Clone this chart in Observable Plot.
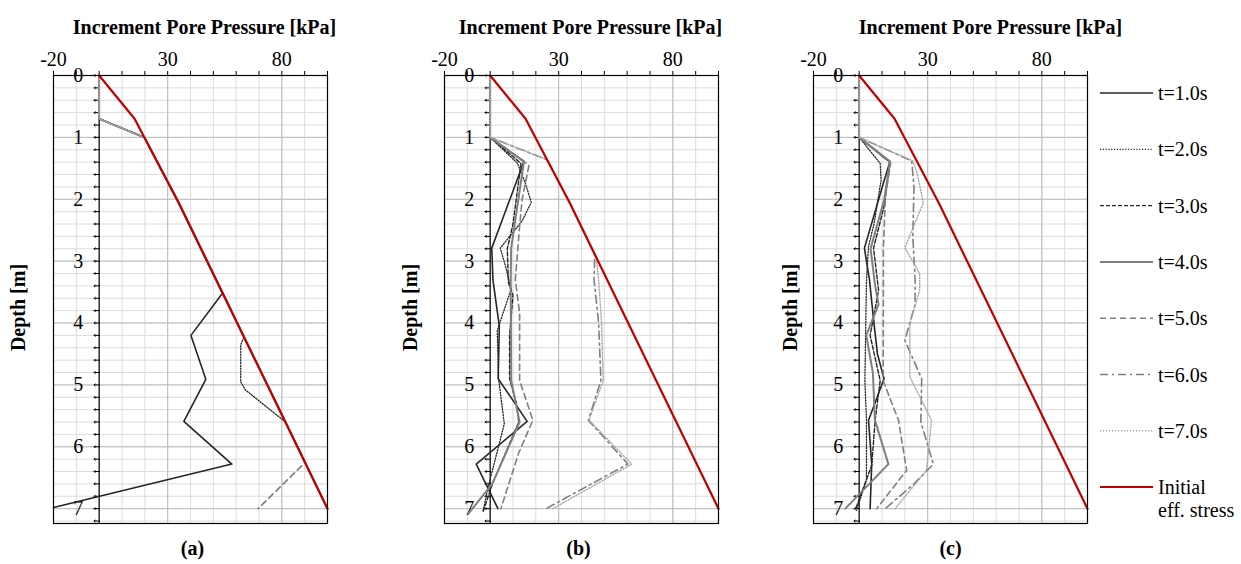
<!DOCTYPE html>
<html><head><meta charset="utf-8">
<script src="https://cdn.jsdelivr.net/npm/d3@7"></script>
<script src="https://cdn.jsdelivr.net/npm/@observablehq/plot@0.6"></script>
<style>
body{margin:0;background:#fff;}
#wrap{position:relative;width:1241px;height:564px;overflow:hidden;font-family:"Liberation Serif","DejaVu Serif",serif;}
#wrap svg, #wrap svg text{font-family:"Liberation Serif","DejaVu Serif",serif !important;}
</style></head><body><div id="wrap"></div>
<script>
// ---- tick labels / categories ----
const xTickLabels = [-20, 30, 80];
const yTickLabels = [0, 1, 2, 3, 4, 5, 6, 7];
const seriesNames = ["t=1.0s", "t=2.0s", "t=3.0s", "t=4.0s", "t=5.0s", "t=6.0s", "t=7.0s"];
const initialName = ["Initial", "eff. stress"];
const panelLabels = ["(a)", "(b)", "(c)"];
const xTitle = "Increment Pore Pressure [kPa]";
const yTitle = "Depth [m]";

// ---- data: [increment pore pressure kPa, depth m] ----
const initialStress = [[0,0],[15.5,0.7],[35,2.07],[100,7.0]];

const a_t1 = [[0,0],[0,0.7],[19.8,1.0],[35,2.07],[54,3.52],[40.2,4.2],[46.7,4.91],[37.1,5.59],[58.1,6.28],[-20,6.98]];
const a_t2 = [[0,0],[0,0.7],[19.8,1.0],[35,2.07],[63.5,4.22],[62,4.35],[62,4.95],[64,5.08],[81.6,5.6],[100,7.0]];
const a_t3 = [[0,0],[0,0.7],[19.8,1.0],[35,2.07],[100,7.0]];
const a_t4 = [[0,0],[0,0.7],[19.8,1.0],[35,2.07],[100,7.0]];
const a_t5 = [[0,0],[0,0.7],[19.8,1.0],[35,2.07],[90.3,6.25],[69.6,7.0]];
const a_t6 = [[0,0],[0,0.7],[19.8,1.0],[35,2.07],[100,7.0]];
const a_t7 = [[0,0],[0,0.7],[19.8,1.0],[35,2.07],[100,7.0]];

const b_t1 = [[0,0],[0,1.0],[14.8,1.39],[0.7,2.79],[1.2,3.3],[4.0,4.05],[3.5,4.9],[16.2,5.59],[-6.1,6.28],[3.4,7.0]];
const b_t2 = [[0,0],[0,1.0],[12,1.42],[15.5,1.75],[18,2.05],[14,2.35],[4.4,2.79],[6.5,3.05],[9.2,3.45],[3.1,4.12],[3.7,4.9],[6.2,5.63],[-0.9,6.65],[-3.1,7.04]];
const b_t3 = [[0,0],[0,1.0],[13.5,1.42],[10,2.4],[7.5,2.8],[8,3.35],[10,3.55],[8.5,4.2],[8.5,4.9],[11.5,5.3],[12.5,5.6],[1,6.6],[-3,7.04]];
const b_t4 = [[0,0],[0,1.0],[14.8,1.39],[9.2,2.79],[9,3.3],[9.2,4.93],[12.9,5.6],[0.9,6.6],[-9.5,7.08]];
const b_t5 = [[0,0],[0,1.0],[17,1.45],[14,2.0],[12.9,2.44],[11,3.3],[12.9,3.84],[12.9,4.93],[18.7,5.57],[12.5,6.1],[4.7,7.0]];
const b_t6 = [[0,0],[0,1.0],[24.9,1.36],[35,2.07],[45.8,2.9],[45.5,3.3],[47.5,4.0],[48.5,4.93],[43,5.57],[60.3,6.28],[24.5,7.0]];
const b_t7 = [[0,0],[0,1.0],[24.9,1.36],[35,2.07],[46.5,2.95],[47.5,3.3],[48.8,4.0],[49.5,4.93],[43.3,5.57],[62,6.28],[27.5,7.0]];

const c_t1 = [[0,0],[0,1.0],[13.5,1.39],[10.6,1.74],[2.3,2.79],[4.5,3.3],[6.5,4.01],[8,4.5],[10.9,4.9],[4.1,5.57],[5.5,6.28],[4.8,7.0]];
const c_t2 = [[0,0],[0,1.0],[9.2,1.42],[9.6,1.69],[6.5,2.4],[4.1,2.76],[3.2,3.31],[2.5,4.93],[3.2,5.57],[3.2,6.54],[-1.2,7.03]];
const c_t3 = [[0,0],[0,1.0],[13.5,1.4],[11,2.1],[6.3,2.79],[8.5,3.47],[4.8,4.2],[9.2,4.93],[7,5.57],[5.5,6.3],[-1.5,7.0]];
const c_t4 = [[0,0],[0,1.0],[13.5,1.39],[11,2.0],[5,2.8],[7,3.4],[8.5,3.7],[3.1,4.2],[6,4.8],[6.9,5.57],[12.8,6.28],[-6.1,7.0]];
const c_t5 = [[0,0],[0,1.0],[13.8,1.42],[11.5,1.95],[10.6,2.8],[10.6,3.5],[10.5,4.93],[17.2,5.57],[20.8,6.38],[7.7,7.0]];
const c_t6 = [[0,0],[0,1.0],[23,1.38],[24,1.8],[23.5,2.6],[24.5,3.3],[24.5,3.7],[20,4.28],[27.4,4.9],[27,5.6],[32.5,6.28],[24,6.6],[11.4,7.0]];
const c_t7 = [[0,0],[0,1.0],[23.5,1.38],[25.4,1.58],[28.1,2.06],[20,2.78],[26.5,3.2],[26.5,3.47],[22.2,4.01],[22.2,4.87],[31.7,5.57],[29.5,6.38],[15.7,7.0]];

// ---- styles ----
const styles = [
  {stroke: "#262626", strokeWidth: 1.6},
  {stroke: "#262626", strokeWidth: 1.3, strokeDasharray: "1.2 1.6"},
  {stroke: "#262626", strokeWidth: 1.4, strokeDasharray: "4 2"},
  {stroke: "#7f7f7f", strokeWidth: 2},
  {stroke: "#7f7f7f", strokeWidth: 1.6, strokeDasharray: "6 4"},
  {stroke: "#7f7f7f", strokeWidth: 1.6, strokeDasharray: "8 4 2 4"},
  {stroke: "#a6a6a6", strokeWidth: 1.4, strokeDasharray: "1.2 1.8"}
];
const redStyle = {stroke: "#c00000", strokeWidth: 2.2};
const FONT = '"Liberation Serif", "DejaVu Serif", serif';
const FS = 20;

const minorX = d3.range(-20, 101, 10);
const minorY = d3.range(0, 37).map(i => +(i * 0.2).toFixed(1));

function panel(series, cfg) {
  const FW = 274;
  const svg = Plot.plot({
    width: cfg.width, height: 564,
    marginTop: 75, marginBottom: 41, marginLeft: cfg.ml, marginRight: cfg.width - cfg.ml - FW,
    x: {domain: [-20, 100], axis: null},
    y: {domain: [0, 7.24], reverse: true, axis: null},
    style: {background: "transparent", fontFamily: FONT, fontSize: FS + "px", overflow: "visible", color: "black"},
    marks: [
      Plot.gridY(minorY, {stroke: "#dcdcdc", strokeOpacity: 1, strokeWidth: 1}),
      Plot.gridX(minorX, {stroke: "#dcdcdc", strokeOpacity: 1, strokeWidth: 1}),
      Plot.gridY(yTickLabels, {stroke: "#bdbdbd", strokeOpacity: 1}),
      Plot.gridX(xTickLabels, {stroke: "#bdbdbd", strokeOpacity: 1}),
      Plot.axisX(minorX, {anchor: "top", tickSize: 5, tickPadding: 5, label: null,
        tickFormat: d => xTickLabels.includes(d) ? String(d) : "", fontSize: FS, stroke: "black"}),
      Plot.ruleX([0], {stroke: "black", strokeWidth: 1.2}),
      Plot.vector(minorY, {x: () => 0, y: d => d, rotate: 270, length: 5, anchor: "start", stroke: "black", strokeWidth: 1, shape: "arrow"}),
      Plot.text(yTickLabels, {x: () => 0, y: d => d, dx: -16, text: d => String(d), textAnchor: "end", fontSize: FS}),
      ...series.map((s, i) => Plot.line(s, {x: d => d[0], y: d => d[1], ...styles[i]})),
      Plot.line(initialStress, {x: d => d[0], y: d => d[1], ...redStyle}),
      Plot.frame({stroke: "black", strokeWidth: 1.2}),
      Plot.text([xTitle], {frameAnchor: "top", dy: -56, dx: cfg.tdx, fontWeight: "bold", fontSize: FS}),
      Plot.text([yTitle], {frameAnchor: "left", textAnchor: "middle", rotate: -90, dx: cfg.ldx, dy: 8, fontWeight: "bold", fontSize: FS}),
      Plot.text([cfg.label], {frameAnchor: "bottom", dy: 31, dx: cfg.pdx, fontWeight: "bold", fontSize: FS})
    ]
  });
  svg.style.position = "absolute";
  svg.style.left = cfg.left + "px";
  svg.style.top = "0px";
  return svg;
}

const wrap = document.getElementById("wrap");
wrap.appendChild(panel([a_t1,a_t2,a_t3,a_t4,a_t5,a_t6,a_t7], {left: 0, width: 390, ml: 53, tdx: 14, ldx: -35, pdx: 2, label: panelLabels[0]}));
wrap.appendChild(panel([b_t1,b_t2,b_t3,b_t4,b_t5,b_t6,b_t7], {left: 390, width: 390, ml: 54, tdx: 9, ldx: -34, pdx: -3, label: panelLabels[1]}));
wrap.appendChild(panel([c_t1,c_t2,c_t3,c_t4,c_t5,c_t6,c_t7], {left: 780, width: 390, ml: 33, tdx: 40, ldx: -23, pdx: 0, label: panelLabels[2]}));

// ---- legend ----
const lg = d3.create("svg").attr("width", 1241).attr("height", 564)
  .style("position", "absolute").style("left", "0px").style("top", "0px")
  .style("font-family", FONT).style("font-size", FS + "px");
seriesNames.forEach((name, i) => {
  const y = 93 + i * 56.3;
  const s = styles[i];
  lg.append("line").attr("x1", 1100).attr("x2", 1153).attr("y1", y).attr("y2", y)
    .attr("stroke", s.stroke).attr("stroke-width", s.strokeWidth)
    .attr("stroke-dasharray", s.strokeDasharray || null);
  lg.append("text").attr("x", 1158).attr("y", y + 7).text(name);
});
{
  const y = 487;
  lg.append("line").attr("x1", 1100).attr("x2", 1153).attr("y1", y).attr("y2", y)
    .attr("stroke", redStyle.stroke).attr("stroke-width", redStyle.strokeWidth);
  lg.append("text").attr("x", 1158).attr("y", y + 7).text(initialName[0]);
  lg.append("text").attr("x", 1158).attr("y", y + 30).text(initialName[1]);
}
wrap.appendChild(lg.node());
</script></body></html>
